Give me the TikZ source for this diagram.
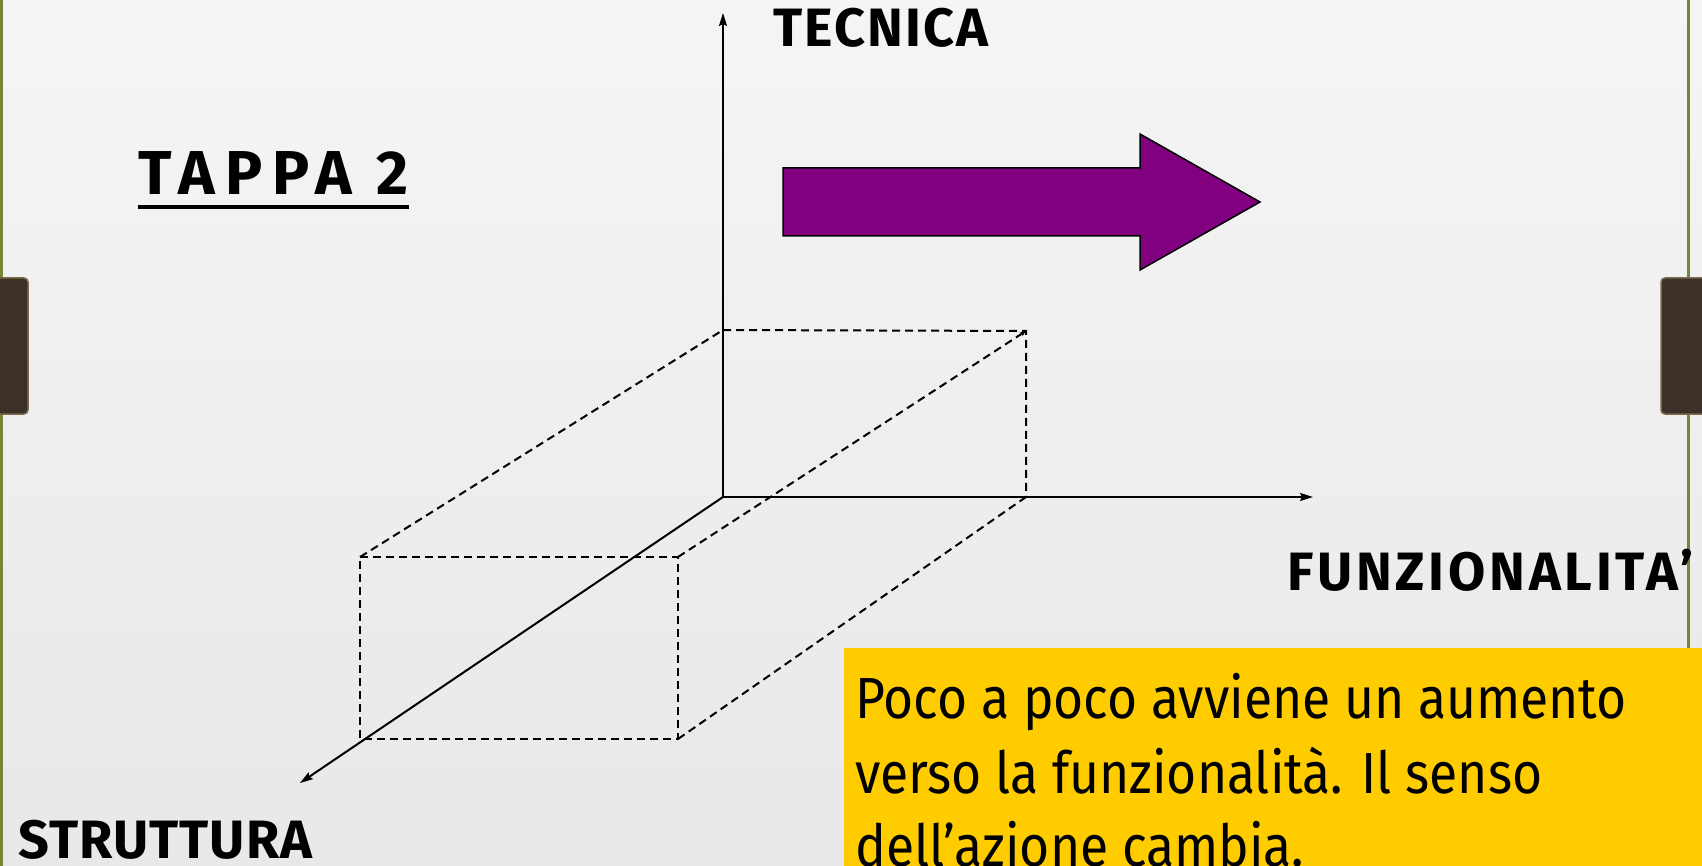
\documentclass[tikz,border=0pt]{standalone}
\usepackage{fontspec}
\usepackage[svgnames]{xcolor}
\usetikzlibrary{positioning,arrows.meta}

\setmainfont{Fira Sans}
\newfontfamily\axisfont[LetterSpace=4]{Fira Sans}
\newfontfamily\notefont[FakeStretch=0.89]{Fira Sans}
\newfontfamily\stagefont[LetterSpace=16]{Fira Sans}

\definecolor{railolive}{HTML}{76853A}
\definecolor{tabbrown}{HTML}{3B3128}
\definecolor{tabedge}{HTML}{7D6A4C}
\definecolor{notegold}{HTML}{FFCC00}
\definecolor{shiftpurple}{HTML}{800080}

\begin{document}
\begin{tikzpicture}[x=1pt,y=-1pt,
        axis/.style={black, line width=2pt, -{Stealth[length=13pt,width=8pt,inset=2pt]}},
        hidden/.style={black, line width=2pt, dash pattern=on 8pt off 5pt},
        axislabel/.style={inner sep=0pt, anchor=base west, font=\axisfont\fontsize{54}{60}\selectfont\bfseries},
        noteline/.style={inner sep=0pt, anchor=base west, font=\notefont\fontsize{58}{75}\selectfont}]

                \useasboundingbox (0,0) rectangle (1702,866);
                \shade[top color=gray!8, bottom color=gray!18] (0,0) rectangle (1702,866);

                % rails and tabs
                \draw[railolive, line width=3pt] (1.5,0) -- (1.5,866);
                \draw[railolive, line width=3pt] (1688,0) -- (1688,648);
                \draw[tabedge, fill=tabbrown, line width=1.5pt, rounded corners=4pt] (-8,278) rectangle (28,414);
                \draw[tabedge, fill=tabbrown, line width=1.5pt, rounded corners=4pt] (1661,278) rectangle (1710,414);

                % note box
                \fill[notegold] (844,648) rectangle (1702,866);

                % axes
                \coordinate (O)    at (723,497);
                \coordinate (Ztop) at (723,13);
                \coordinate (Xend) at (1313,497);
                \coordinate (Yend) at (300,783);

                \draw[axis] (O) -- (Ztop);
                \draw[axis] (O) -- (Xend);
                \draw[axis] (O) -- (Yend);

                % box corners
                \coordinate (bTL) at (723,330);
                \coordinate (bTR) at (1026,331);
                \coordinate (bBR) at (1026,497);
                \coordinate (fTL) at (360,557);
                \coordinate (fTR) at (678,557);
                \coordinate (fBR) at (678,739);
                \coordinate (fBL) at (360,739);

                \draw[hidden] (bTL) -- (bTR) -- (bBR);
                \draw[hidden] (fTL) -- (fTR) -- (fBR) -- (fBL) -- cycle;
                \draw[hidden] (fTL) -- (bTL);
                \draw[hidden, -{Stealth[length=6pt,width=5pt]}] (fTR) -- (bTR);
                \draw[hidden] (fBR) -- (bBR);

                % big arrow
                \draw[black, line width=1.5pt, fill=shiftpurple]
                (783,168) -- (1140,168) -- (1140,134) -- (1260,202)
                -- (1140,270) -- (1140,236) -- (783,236) -- cycle;

                % labels
                \node[axislabel] (tecnica)  at (773,47)   {TECNICA};
                \node[axislabel] (funz)     at (1287,590) {\addfontfeature{LetterSpace=7}FUNZIONALITA’};
                \node[axislabel] (struct)   at (18,858)   {\addfontfeature{LetterSpace=2}STRUTTURA};
                \node[inner sep=0pt, anchor=base west, font=\stagefont\fontsize{62}{70}\selectfont\bfseries]
                        (tappa) at (138,195) {TAPPA 2};
                \draw[line width=4pt] ([yshift=-12pt]tappa.base west) -- ([yshift=-12pt]tappa.base east);

                \node[noteline] (note1) at (855,718) {Poco a poco avviene un aumento};
                \node[noteline] (note2) at (855,793) {verso la funzionalità. Il senso};
                \node[noteline] (note3) at (855,866) {dell’azione cambia.};
\end{tikzpicture}
\end{document}
